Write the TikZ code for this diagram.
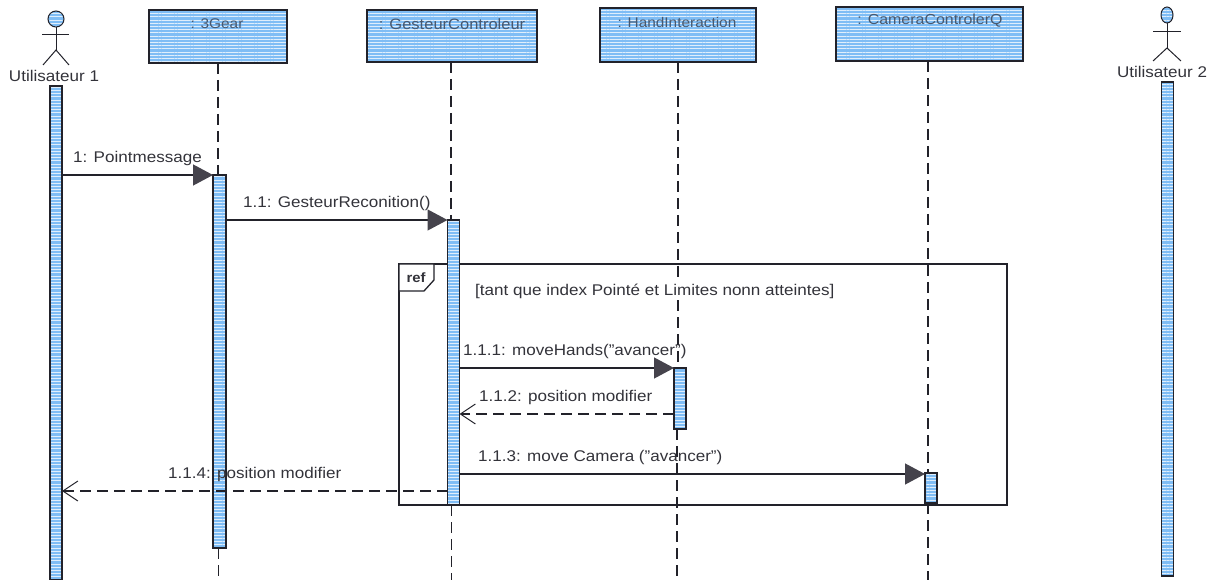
\documentclass[tikz,border=0pt]{standalone}
\usepackage{fontspec}
\setmainfont{Liberation Sans}[FakeStretch=1.1]
\usetikzlibrary{arrows.meta,patterns.meta,shapes.geometric}
\definecolor{umlblue}{HTML}{7FBDF5}
\definecolor{inkc}{HTML}{22222A}
\definecolor{tipc}{HTML}{45434C}
\definecolor{txtc}{HTML}{33333A}
\definecolor{boxtxt}{HTML}{48586E}
\tikzset{
  x=1pt,y=-1pt,
  halftone/.style={preaction={fill=umlblue},pattern={Lines[angle=0,distance=3.2pt,line width=.9pt]},pattern color=white!75!umlblue},
  objbox/.style={draw=inkc,line width=1.3pt,halftone,inner sep=0pt,outer sep=0pt,anchor=north west},
  objtext/.style={text=boxtxt,font=\fontsize{14}{16}\selectfont,inner sep=0pt},
  activebar/.style={draw=inkc,line width=1.2pt,halftone,inner sep=0pt,outer sep=0pt,minimum width=12pt,anchor=north},
  lifeline/.style={draw=inkc,line width=1.4pt,dash pattern=on 11pt off 6pt},
  stick/.style={draw=inkc,line width=1pt},
  headc/.style={draw=inkc,line width=1pt,halftone,inner sep=0pt,outer sep=0pt},
  lbl/.style={text=txtc,font=\fontsize{15.5}{17}\selectfont,inner sep=0pt,anchor=west},
  callmsg/.style={draw=inkc,line width=1.2pt,-{Triangle[length=20pt,width=21pt,color=tipc]}},
  retmsg/.style={draw=inkc,line width=1.2pt,dash pattern=on 11pt off 6pt,-{Straight Barb[length=15pt,width=20pt,line width=1pt]}},
  framebox/.style={draw=inkc,line width=1.3pt,inner sep=0pt,outer sep=0pt}
}
\begin{document}
\begin{tikzpicture}
\useasboundingbox (0,0) rectangle (1216,580);
% object boxes
\node[objbox,minimum width=138pt,minimum height=53pt] (gear) at (149,10) {};
\node[objbox,minimum width=170pt,minimum height=52pt] (gest) at (367,10) {};
\node[objbox,minimum width=156pt,minimum height=54pt] (hand) at (600,8) {};
\node[objbox,minimum width=187pt,minimum height=54pt] (cam) at (836,7) {};
\node[objtext] at (217,24) {: 3Gear};
\node[objtext,font=\fontsize{15}{17}\selectfont] at (452,24) {: GesteurControleur};
\node[objtext] at (677,22) {: HandInteraction};
\node[objtext,font=\fontsize{14.5}{17}\selectfont] at (930,21) {: CameraControlerQ};
% activation bars
\node[activebar,minimum height=494pt] (barU) at (56,86) {};
\node[activebar,minimum height=373pt,minimum width=13pt] (barG) at (219.5,175) {};
\node[activebar,minimum height=285pt] (barC) at (453.5,220) {};
\node[activebar,minimum height=61pt] (barH) at (680,368) {};
\node[activebar,minimum height=30pt] (barK) at (931,473) {};
\node[activebar,minimum height=494pt] (barV) at (1167.5,82) {};
% baselines
\coordinate (y1) at (0,175);
\coordinate (y11) at (0,220);
\coordinate (y111) at (0,368);
\coordinate (y112) at (0,414);
\coordinate (y113) at (0,474);
\coordinate (y114) at (0,491);
% lifelines
\draw[lifeline] (gear.south) -- (gear.south |- barG.north);
\draw[lifeline] (barG.south) ++(-1,0) -- ++(0,32);
\draw[lifeline] (gest.south) ++(-1,0) -- ++(0,158);
\draw[lifeline] (barC.south) ++(-2,0) -- ++(0,75);
\draw[lifeline] (hand.south) -- (hand.south |- barH.north);
\draw[lifeline] (barH.south) ++(-3,0) -- ++(0,151);
\draw[lifeline] (cam.south) ++(-1.5,0) -- ++(0,412);
\draw[lifeline] (barK.south) ++(-3,0) -- ++(0,77);
% frame
\node[framebox,minimum width=608pt,minimum height=241pt,anchor=north west] (frame) at (399,264) {};
\draw[framebox,fill=white] (frame.north west) -- ++(35,0) -- ++(0,16) -- ++(-10,11) -- ++(-25,0) -- cycle;
\node[font=\fontsize{13.5}{15}\bfseries\selectfont,text=txtc,inner sep=0pt] (reflbl) at (416,278) {ref};
\node[lbl,fill=white,inner sep=2pt] (guard) at (473,291) {[tant que index Pointé et Limites nonn atteintes]};
% bars over frame
\node[activebar,minimum height=285pt] at (barC.north) {};
\node[activebar,minimum height=30pt] at (barK.north) {};
% actors
\node[headc,circle,minimum size=16pt] (headA) at (56,19) {};
\draw[stick] (headA.south) -- ++(0,23) coordinate (hipA);
\draw[stick] (42,35) -- (69,35);
\draw[stick] (43,65) -- (hipA) -- (69,65);
\node[lbl,anchor=center] (actA) at (54,76) {Utilisateur 1};
\node[headc,ellipse,minimum width=12pt,minimum height=16pt] (headB) at (1167,15) {};
\draw[stick] (headB.south) -- ++(0,25) coordinate (hipB);
\draw[stick] (1153,32) -- (1181,32);
\draw[stick] (1153,61) -- (hipB) -- (1181,61);
\node[lbl,anchor=center] (actB) at (1162,72) {Utilisateur 2};
% messages
\draw[callmsg] (barU.east |- y1) -- (barG.west |- y1);
\draw[callmsg] (barG.east |- y11) -- (barC.west |- y11);
\draw[callmsg] (barC.east |- y111) -- (barH.west |- y111);
\draw[retmsg] (barH.west |- y112) -- (barC.east |- y112);
\draw[callmsg] (barC.east |- y113) -- (barK.west |- y113);
\draw[retmsg] (barC.west |- y114) -- (barU.east |- y114);
% labels
\node[lbl] at (73,158) {1: Pointmessage};
\node[lbl] at (243,203) {1.1: GesteurReconition()};
\node[lbl] at (463,351) {1.1.1: moveHands("avancer")};
\node[lbl] at (479,397) {1.1.2: position modifier};
\node[lbl] at (478,457) {1.1.3: move Camera ("avancer")};
\node[lbl] at (168,474) {1.1.4: position modifier};
\end{tikzpicture}
\end{document}
